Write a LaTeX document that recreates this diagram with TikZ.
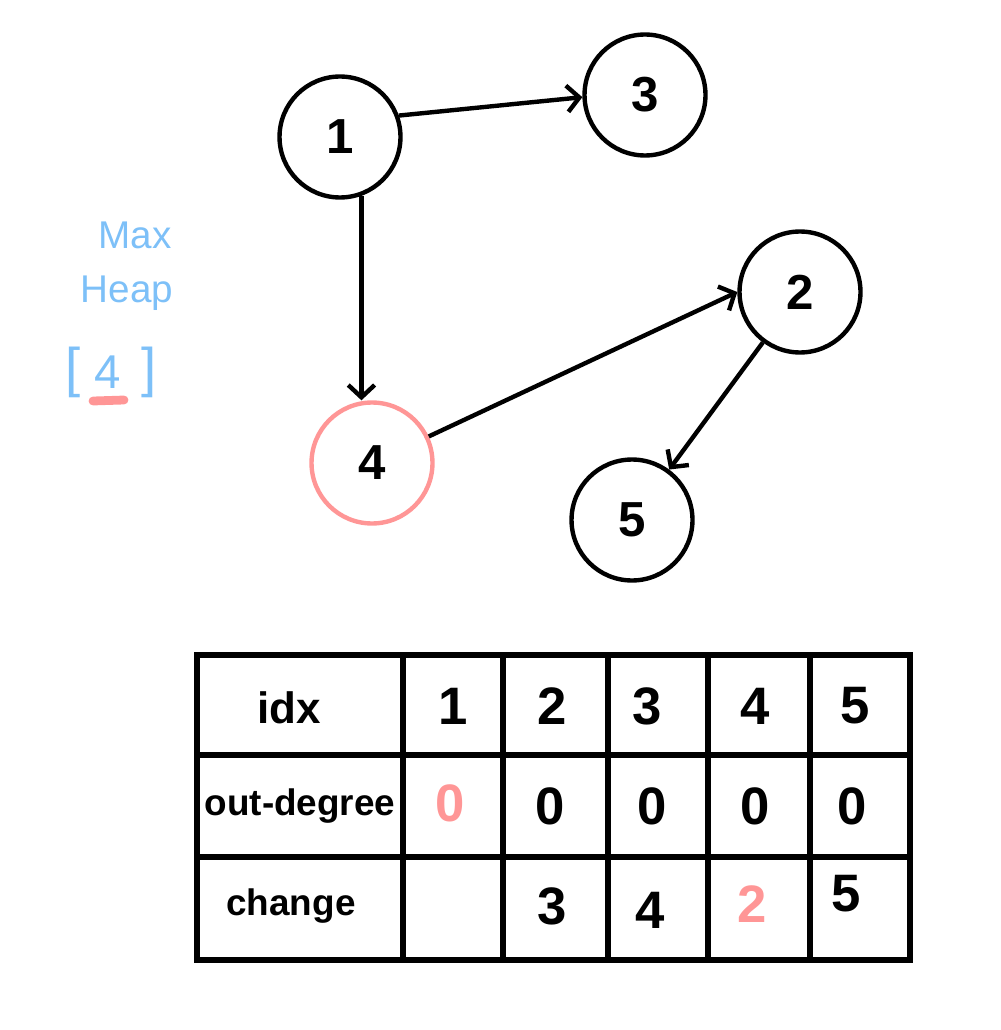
\documentclass[tikz,border=0pt]{standalone}
\usepackage{fontspec}
\setmainfont{Liberation Sans}
\usetikzlibrary{arrows.meta, positioning, calc}
\definecolor{HeapBlue}{RGB}{125,192,248}
\definecolor{MarkPink}{RGB}{255,150,150}

\begin{document}
\begin{tikzpicture}[x=0.02cm,y=-0.02cm,
    vertex/.style={circle,draw=black,line width=2.5pt,minimum size=24.2mm,inner sep=0pt,
      font=\fontsize{28}{32}\selectfont\bfseries},
    edge/.style={line width=2.5pt,-{Straight Barb[length=7pt,width=15pt]}},
    heaptext/.style={text=HeapBlue,font=\fontsize{22}{26}\selectfont},
    cell/.style={font=\fontsize{30}{34}\selectfont\bfseries},
    headcell/.style={font=\fontsize{21}{25}\selectfont\bfseries},
    gridline/.style={line width=3.1pt,line cap=rect}]
  \useasboundingbox (0,0) rectangle (1000,1030);
  % Graph
  \node[vertex] (n1) at (340,137) {1};
  \node[vertex] (n3) at (645,95) {3};
  \node[vertex] (n2) at (800,292) {2};
  \node[vertex,draw=MarkPink] (n4) at (372,463) {4};
  \node[vertex] (n5) at (632,520) {5};
  \draw[edge] (n1.20) -- (n3.182);
  \draw[edge] (n1.290) -- (n1.290 |- n4.north);
  \draw[edge] (n4) -- (n2.west);
  \draw[edge] (n2) -- (n5);
  % Heap
  \node[heaptext] (hmax) at (135,235) {Max};
  \node[heaptext] (hheap) at (127,293) {Heap};
  \node[heaptext,font=\fontsize{31}{35}\selectfont] (hlb) at (73,372) {[};
  \node[heaptext,font=\fontsize{27}{31}\selectfont] (hval) at (108,372) {4};
  \node[heaptext,font=\fontsize{31}{35}\selectfont] (hrb) at (149,372) {]};
  \draw[MarkPink,line width=5pt,line cap=round] (93,401) -- (124,400);
  % Table
  \draw[gridline] (197,655) rectangle (910,960);
  \foreach \x in {403,503,608,708,810}
    \draw[gridline] (\x,655) -- (\x,960);
  \foreach \y in {755,857}
    \draw[gridline] (197,\y) -- (910,\y);
  \node[headcell,font=\fontsize{25}{29}\selectfont\bfseries] (tidx) at (289,708) {idx};
  \node[headcell] (tdeg) at (300,806) {out-degree};
  \node[headcell] (tchg) at (291,906) {change};
  \foreach \v/\x in {1/453,2/552,3/647,4/755,5/855}
    \node[cell] (id\v) at (\x,706) {\v};
  \node[cell,text=MarkPink] (deg1) at (450,803) {0};
  \foreach \v/\x in {2/550,3/652,4/755,5/852}
    \node[cell] (deg\v) at (\x,806) {0};
  \node[cell] (chg2) at (552,906) {3};
  \node[cell] (chg3) at (650,910) {4};
  \node[cell,text=MarkPink] (chg4) at (752,904) {2};
  \node[cell] (chg5) at (846,894) {5};
\end{tikzpicture}
\end{document}
